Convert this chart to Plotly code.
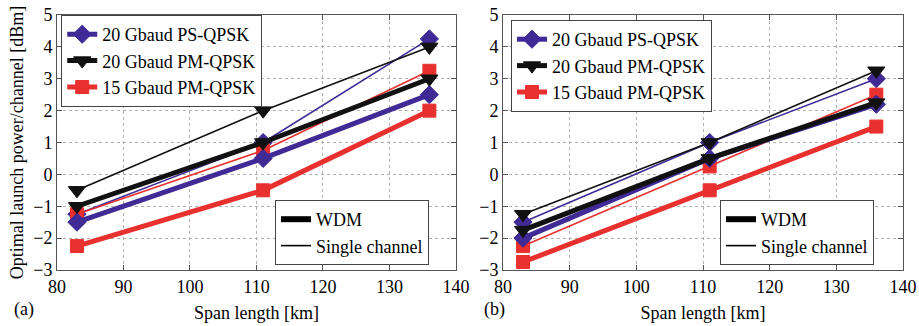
import plotly.graph_objects as go

span_km = [83, 111, 136]

# Panel (a)
a_ps_wdm = [-1.5, 0.5, 2.5]
a_ps_sc = [-1.25, 1.0, 4.25]
a_pm20_wdm = [-1.0, 1.0, 3.0]
a_pm20_sc = [-0.5, 2.0, 4.0]
a_pm15_wdm = [-2.25, -0.5, 2.0]
a_pm15_sc = [-1.25, 0.75, 3.25]

# Panel (b)
b_ps_wdm = [-2.0, 0.5, 2.2]
b_ps_sc = [-1.5, 1.0, 3.0]
b_pm20_wdm = [-1.75, 0.5, 2.25]
b_pm20_sc = [-1.25, 1.0, 3.25]
b_pm15_wdm = [-2.75, -0.5, 1.5]
b_pm15_sc = [-2.25, 0.25, 2.5]

names = ["20 Gbaud PS-QPSK", "20 Gbaud PM-QPSK", "15 Gbaud PM-QPSK"]
colors = ["#3f2a96", "#111111", "#e8302f"]
symbols = ["diamond", "triangle-down", "square"]
msize = [14, 15, 13]
style_names = ["WDM", "Single channel"]

FONT = "Liberation Serif"
W_THICK = 5
W_THIN = 1.6

fig = go.Figure()

panels = [
    ("x", "y", "legend", "legend2",
     [a_ps_wdm, a_pm20_wdm, a_pm15_wdm], [a_ps_sc, a_pm20_sc, a_pm15_sc]),
    ("x2", "y2", "legend3", "legend4",
     [b_ps_wdm, b_pm20_wdm, b_pm15_wdm], [b_ps_sc, b_pm20_sc, b_pm15_sc]),
]

for xa, ya, leg_mod, leg_sty, wdm, sc in panels:
    for i in range(3):
        fig.add_trace(go.Scatter(
            x=span_km, y=sc[i], mode="lines+markers", xaxis=xa, yaxis=ya,
            line=dict(color=colors[i], width=W_THIN),
            marker=dict(symbol=symbols[i], size=msize[i], color=colors[i],
                        line=dict(color=colors[i], width=1)),
            showlegend=False))
    for i in range(3):
        fig.add_trace(go.Scatter(
            x=span_km, y=wdm[i], mode="lines+markers", xaxis=xa, yaxis=ya,
            name=names[i], legend=leg_mod,
            line=dict(color=colors[i], width=W_THICK),
            marker=dict(symbol=symbols[i], size=msize[i], color=colors[i],
                        line=dict(color=colors[i], width=1)),
            showlegend=True))
    for j, w in enumerate([W_THICK + 1, W_THIN]):
        fig.add_trace(go.Scatter(
            x=[None], y=[None], mode="lines", xaxis=xa, yaxis=ya,
            name=style_names[j], legend=leg_sty,
            line=dict(color="black", width=w), showlegend=True))

ax_common = dict(
    showline=True, linecolor="#555555", linewidth=1, mirror="ticks",
    ticks="inside", ticklen=5, tickcolor="#555555",
    showgrid=True, gridcolor="#b0b0b0", griddash="dot", gridwidth=1,
    zeroline=False, automargin=False,
    tickfont=dict(family=FONT, size=18, color="black"),
)

x_dom1 = [0.0, 0.4716]
x_dom2 = [0.5272, 1.0]

legend_common = dict(
    font=dict(family=FONT, size=18, color="black"),
    bgcolor="white", bordercolor="#444444", borderwidth=1,
    xanchor="left", yanchor="top", tracegroupgap=0, itemsizing="trace",
    itemwidth=30,
)

fig.update_layout(
    width=919, height=326,
    margin=dict(l=57, r=16, t=15, b=56, autoexpand=False),
    plot_bgcolor="white", paper_bgcolor="white",
    font=dict(family=FONT, size=18, color="black"),
    xaxis=dict(domain=x_dom1, range=[80, 140], dtick=10, anchor="y",
               title=dict(text="Span length [km]", standoff=10,
                          font=dict(family=FONT, size=18)), **ax_common),
    yaxis=dict(range=[-3, 5], dtick=1, anchor="x",
               title=dict(text="Optimal launch power/channel [dBm]", standoff=4,
                          font=dict(family=FONT, size=18)), **ax_common),
    xaxis2=dict(domain=x_dom2, range=[80, 140], dtick=10, anchor="y2",
                title=dict(text="Span length [km]", standoff=10,
                           font=dict(family=FONT, size=18)), **ax_common),
    yaxis2=dict(range=[-3, 5], dtick=1, anchor="x2", **ax_common),
    legend=dict(x=0.005, y=1.0, **legend_common),
    legend2=dict(x=(275 - 57) / 846, y=(270 - 200) / 255, **legend_common),
    legend3=dict(x=(511 - 57) / 846, y=(270 - 20) / 255, **legend_common),
    legend4=dict(x=(720 - 57) / 846, y=(270 - 200) / 255, **legend_common),
    annotations=[
        dict(text="(a)", x=(12 - 57) / 846, y=(270 - 310) / 255, xref="paper", yref="paper",
             xanchor="left", yanchor="middle", showarrow=False,
             font=dict(family=FONT, size=18)),
        dict(text="(b)", x=(482 - 57) / 846, y=(270 - 310) / 255, xref="paper", yref="paper",
             xanchor="left", yanchor="middle", showarrow=False,
             font=dict(family=FONT, size=18)),
    ],
)

fig.write_html("out.html")
